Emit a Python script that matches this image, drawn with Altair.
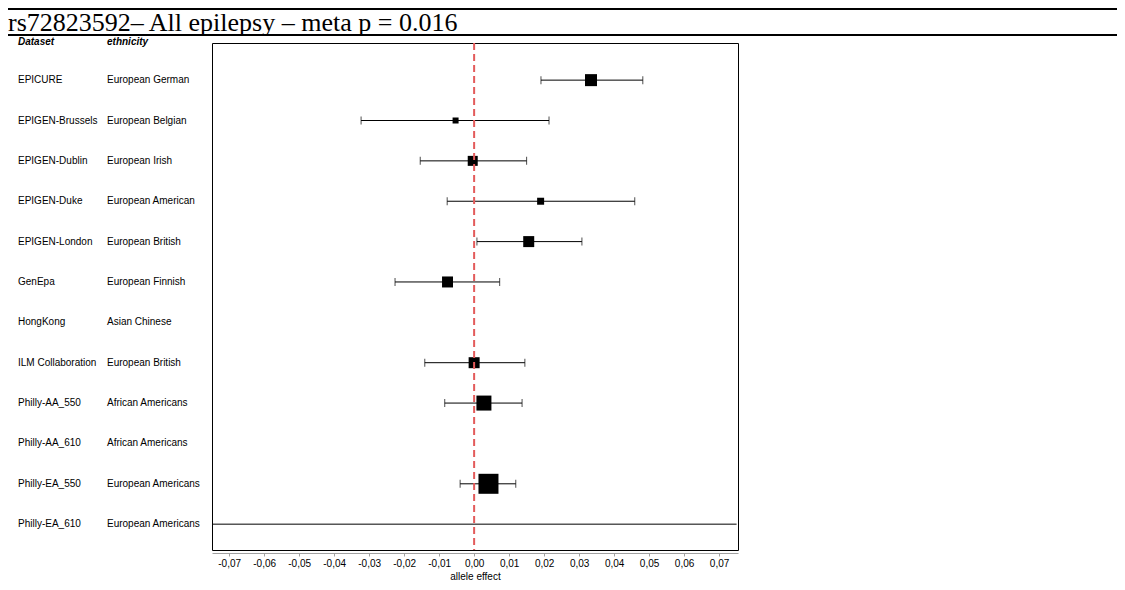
import altair as alt
import pandas as pd

title_text = "rs72823592\u2013 All epilepsy \u2013 meta p = 0.016"

datasets = ["EPICURE", "EPIGEN-Brussels", "EPIGEN-Dublin", "EPIGEN-Duke", "EPIGEN-London",
            "GenEpa", "HongKong", "ILM Collaboration", "Philly-AA_550", "Philly-AA_610",
            "Philly-EA_550", "Philly-EA_610"]
ethnicities = ["European German", "European Belgian", "European Irish", "European American",
               "European British", "European Finnish", "Asian Chinese", "European British",
               "African Americans", "African Americans", "European Americans", "European Americans"]
effect = [0.0334, -0.0053, -0.0004, 0.0190, 0.0156, -0.0076, None, 0.0000, 0.0028, None, 0.0041, None]
ci_low = [0.0191, -0.0323, -0.0154, -0.0077, 0.0008, -0.0226, None, -0.0141, -0.0084, None, -0.0040, -0.075]
ci_high = [0.0482, 0.0214, 0.0150, 0.0459, 0.0308, 0.0073, None, 0.0145, 0.0137, None, 0.0119, 0.075]
weight = [1.44, 0.36, 1.0, 0.49, 1.21, 1.21, None, 1.21, 2.25, None, 4.0, None]
tick_values = [-0.07, -0.06, -0.05, -0.04, -0.03, -0.02, -0.01, 0.0,
               0.01, 0.02, 0.03, 0.04, 0.05, 0.06, 0.07]

df = pd.DataFrame({
    "dataset": datasets,
    "ethnicity": ethnicities,
    "effect": effect,
    "low": ci_low,
    "high": ci_high,
    "weight": weight,
    "row": list(range(len(datasets))),
})

W, H = 526, 507
PAD = {"left": 204, "top": 35, "right": 379, "bottom": 32}
FONT = "Liberation Sans"

xscale = alt.Scale(domain=[-0.0749, 0.0754], nice=False, zero=False)
yscale = alt.Scale(domain=[-0.92, 11.64], reverse=True, nice=False, zero=False)

label_expr = "(datum.value < -1e-9 ? '-' : '') + replace(format(abs(datum.value), '.2f'), '.', ',')"

x_axis = alt.Axis(values=tick_values, labelExpr=label_expr, grid=False, labelOverlap=False,
                  domainColor="#a0a0a0", tickColor="#a0a0a0", tickSize=3, offset=3,
                  labelFont=FONT, labelFontSize=10, labelColor="black", labelPadding=2,
                  title="allele effect", titleFont=FONT, titleFontSize=10,
                  titleFontWeight="normal", titleColor="black", titlePadding=3)

base = alt.Chart(df)

whisk = base.mark_rule(color="black", strokeWidth=1, clip=True).encode(
    x=alt.X("low:Q", scale=xscale, axis=x_axis),
    x2="high:Q",
    y=alt.Y("row:Q", scale=yscale, axis=None),
).transform_filter("datum.low != null")

cap_lo = base.mark_tick(color="black", thickness=1, size=8, orient="vertical").encode(
    x=alt.X("low:Q", scale=xscale, axis=x_axis), y=alt.Y("row:Q", scale=yscale, axis=None)
).transform_filter("datum.effect != null")
cap_hi = base.mark_tick(color="black", thickness=1, size=8, orient="vertical").encode(
    x=alt.X("high:Q", scale=xscale, axis=x_axis), y=alt.Y("row:Q", scale=yscale, axis=None)
).transform_filter("datum.effect != null")

squares = base.mark_square(color="black", opacity=1, filled=True).encode(
    x=alt.X("effect:Q", scale=xscale, axis=x_axis),
    y=alt.Y("row:Q", scale=yscale, axis=None),
    size=alt.Size("weight:Q", scale=alt.Scale(domain=[0, 4], range=[0, 400]), legend=None),
).transform_filter("datum.effect != null")

zero_line = alt.Chart(pd.DataFrame({"z": [0.0]})).mark_rule(
    color="#e35b5b", strokeWidth=2, strokeDash=[7, 4]
).encode(x=alt.X("z:Q", scale=xscale, axis=x_axis))

ds_text = base.mark_text(align="left", baseline="middle", font=FONT, fontSize=10, color="black").encode(
    x=alt.value(-194), y=alt.Y("row:Q", scale=yscale, axis=None), text="dataset:N")
eth_text = base.mark_text(align="left", baseline="middle", font=FONT, fontSize=10, color="black").encode(
    x=alt.value(-105), y=alt.Y("row:Q", scale=yscale, axis=None), text="ethnicity:N")

hdr = pd.DataFrame({"h": ["Dataset", "ethnicity"], "hx": [-194, -105]})
hdr_text = alt.Chart(hdr).mark_text(align="left", baseline="middle", font=FONT, fontSize=10,
                                     fontWeight="bold", fontStyle="italic", color="black").encode(
    x=alt.X("hx:Q", scale=None), y=alt.value(-1), text="h:N")

title_mark = alt.Chart(pd.DataFrame({"t": [title_text]})).mark_text(
    align="left", baseline="alphabetic", font="Liberation Serif", fontSize=26, color="black"
).encode(x=alt.value(-204), y=alt.value(-12), text="t:N")

line_top = alt.Chart(pd.DataFrame({"a": [0]})).mark_rule(color="black", strokeWidth=2).encode(
    x=alt.value(-204), x2=alt.value(W + PAD["right"]), y=alt.value(-34))
line_mid = alt.Chart(pd.DataFrame({"a": [0]})).mark_rule(color="black", strokeWidth=2).encode(
    x=alt.value(-204), x2=alt.value(W + PAD["right"]), y=alt.value(-8))

chart = alt.layer(
    whisk, cap_lo, cap_hi, squares, zero_line, ds_text, eth_text, hdr_text,
    title_mark, line_top, line_mid
).properties(
    width=W, height=H,
    autosize=alt.AutoSizeParams(type="none"),
    padding=PAD,
).configure(background="white").configure_view(
    stroke="black", strokeWidth=1
).configure_axis(labelOverlap=False)

chart.save("out.html", embed_options={"renderer": "svg", "actions": False})
